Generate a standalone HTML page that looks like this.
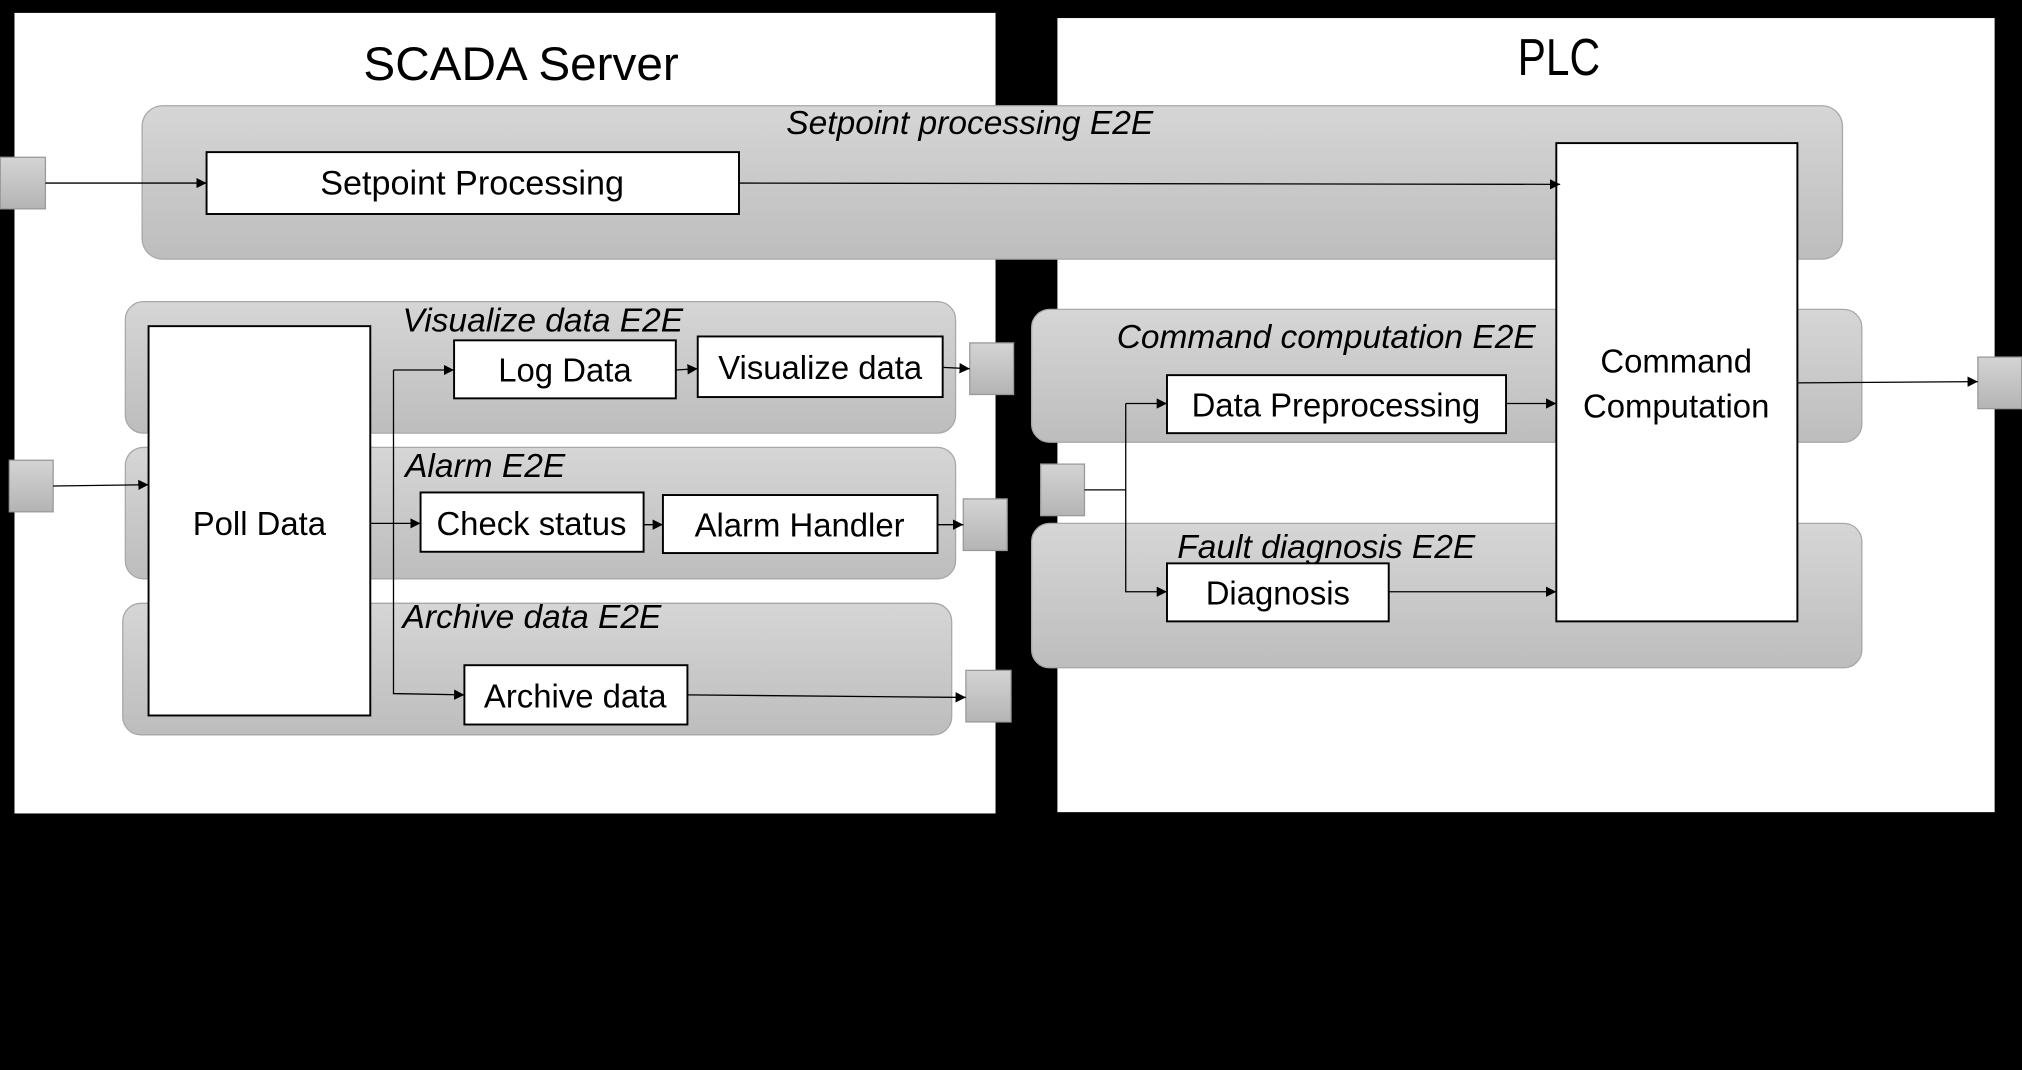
<!DOCTYPE html>
<html><head><meta charset="utf-8"><style>
html,body{margin:0;padding:0;background:#000;}
svg{display:block;}
text{font-family:"Liberation Sans",sans-serif;fill:#000;}
.b{font-size:25.5px;}
.i{font-size:26px;font-style:italic;}
</style></head><body>
<svg width="2022" height="1070" viewBox="0 0 1568 830" xmlns="http://www.w3.org/2000/svg">
<defs>
<linearGradient id="g" x1="0" y1="0" x2="0" y2="1"><stop offset="0" stop-color="#d6d6d6"/><stop offset="1" stop-color="#bdbdbd"/></linearGradient>
<linearGradient id="p" x1="0" y1="0" x2="0" y2="1"><stop offset="0" stop-color="#d4d4d4"/><stop offset="1" stop-color="#b4b4b4"/></linearGradient>
<marker id="a" viewBox="0 0 10 10" refX="10" refY="5" markerWidth="8" markerHeight="8" orient="auto" markerUnits="userSpaceOnUse"><path d="M0,0L10,5L0,10z" fill="#000"/></marker>
</defs>
<rect width="1568" height="830" fill="#000"/>
<rect x="11" y="10" width="761" height="621" fill="#fff"/>
<rect x="820" y="14" width="727" height="616" fill="#fff"/>
<text x="404" y="62" font-size="37" text-anchor="middle">SCADA Server</text>
<text x="1209" y="58" font-size="40" text-anchor="middle" textLength="64" lengthAdjust="spacingAndGlyphs">PLC</text>
<g fill="url(#g)" stroke="#a8a8a8" stroke-width="1">
<rect x="110" y="82" width="1319" height="119" rx="16"/>
<rect x="97" y="234" width="644" height="102" rx="14"/>
<rect x="97" y="347" width="644" height="102" rx="14"/>
<rect x="95" y="468" width="643" height="102" rx="14"/>
<rect x="800" y="240" width="644" height="103" rx="14"/>
<rect x="800" y="406" width="644" height="112" rx="14"/>
</g>
<text class="i" x="752" y="104" text-anchor="middle">Setpoint processing E2E</text>
<text class="i" x="312" y="257">Visualize data E2E</text>
<text class="i" x="314" y="370">Alarm E2E</text>
<text class="i" x="312" y="487">Archive data E2E</text>
<text class="i" x="866" y="270">Command computation E2E</text>
<text class="i" x="913" y="433">Fault diagnosis E2E</text>
<g fill="#fff" stroke="#000" stroke-width="1.5">
<rect x="160" y="118" width="413" height="48"/>
<rect x="115" y="253" width="172" height="302"/>
<rect x="352" y="264" width="172" height="45"/>
<rect x="541" y="261" width="190" height="47"/>
<rect x="326" y="382" width="173" height="46"/>
<rect x="514" y="384" width="213" height="45"/>
<rect x="360" y="516" width="173" height="46"/>
<rect x="905" y="291" width="263" height="45"/>
<rect x="905" y="437" width="172" height="45"/>
<rect x="1207" y="111" width="187" height="371"/>
</g>
<g text-anchor="middle">
<text class="b" x="366" y="151" style="font-size:26.5px">Setpoint  Processing</text>
<text class="b" x="201" y="415">Poll Data</text>
<text class="b" x="438" y="296">Log Data</text>
<text class="b" x="636" y="294">Visualize data</text>
<text class="b" x="412" y="415">Check status</text>
<text class="b" x="620" y="416">Alarm Handler</text>
<text class="b" x="446" y="549">Archive data</text>
<text class="b" x="1036" y="323">Data Preprocessing</text>
<text class="b" x="991" y="469">Diagnosis</text>
<text class="b" x="1300" y="289">Command</text>
<text class="b" x="1300" y="324">Computation</text>
</g>
<g fill="url(#p)" stroke="#9a9a9a" stroke-width="1">
<rect x="0" y="122" width="35" height="40"/>
<rect x="7" y="357" width="34" height="40"/>
<rect x="752" y="266" width="34" height="40"/>
<rect x="747" y="387" width="34" height="40"/>
<rect x="749" y="520" width="35" height="40"/>
<rect x="807" y="360" width="34" height="40"/>
<rect x="1534" y="277" width="34" height="40"/>
</g>
<g stroke="#000" stroke-width="1" fill="none">
<line x1="35" y1="142" x2="160" y2="142" marker-end="url(#a)"/>
<line x1="573" y1="142" x2="1210" y2="143" marker-end="url(#a)"/>
<line x1="41" y1="377" x2="115" y2="376" marker-end="url(#a)"/>
<line x1="287" y1="406" x2="326" y2="406" marker-end="url(#a)"/>
<polyline points="305,287 305,538 360,539" marker-end="url(#a)"/>
<line x1="305" y1="287" x2="352" y2="287" marker-end="url(#a)"/>
<line x1="524" y1="287" x2="541" y2="286" marker-end="url(#a)"/>
<line x1="731" y1="285" x2="752" y2="286" marker-end="url(#a)"/>
<line x1="499" y1="407" x2="514" y2="407" marker-end="url(#a)"/>
<line x1="727" y1="407" x2="747" y2="407" marker-end="url(#a)"/>
<line x1="533" y1="539" x2="749" y2="541" marker-end="url(#a)"/>
<line x1="841" y1="380" x2="873" y2="380"/>
<polyline points="873,313 873,459 905,459" marker-end="url(#a)"/>
<line x1="873" y1="313" x2="905" y2="313" marker-end="url(#a)"/>
<line x1="1168" y1="313" x2="1207" y2="313" marker-end="url(#a)"/>
<line x1="1077" y1="459" x2="1207" y2="459" marker-end="url(#a)"/>
<line x1="1394" y1="297" x2="1534" y2="296" marker-end="url(#a)"/>
</g>
</svg>
</body></html>
